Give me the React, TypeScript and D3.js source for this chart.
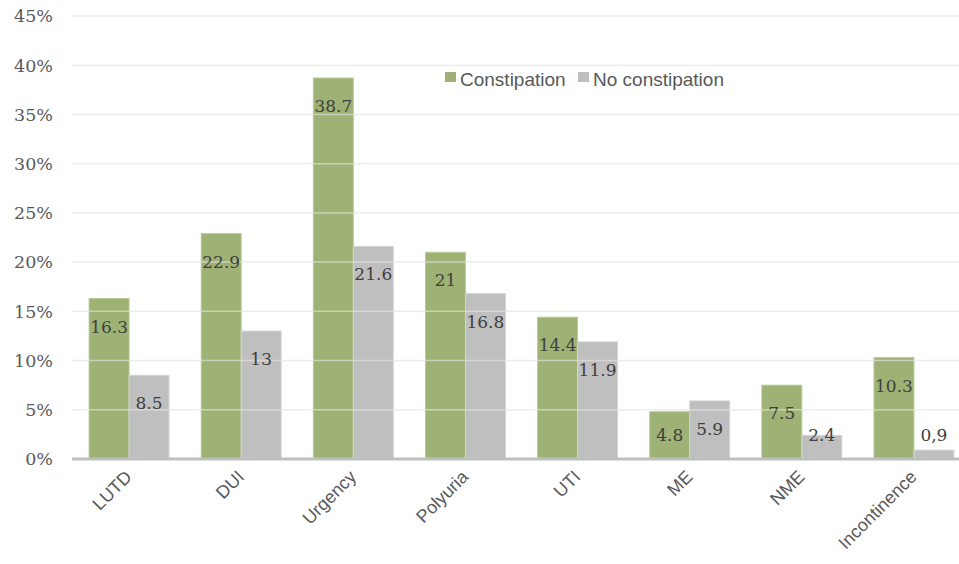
import React, { useEffect, useRef } from "react";
import * as d3 from "d3";

const categories = ["LUTD", "DUI", "Urgency", "Polyuria", "UTI", "ME", "NME", "Incontinence"];
const constipation = [16.3, 22.9, 38.7, 21, 14.4, 4.8, 7.5, 10.3];
const noConstipation = [8.5, 13, 21.6, 16.8, 11.9, 5.9, 2.4, 0.9];
const constipationLabels = ["16.3", "22.9", "38.7", "21", "14.4", "4.8", "7.5", "10.3"];
const noConstipationLabels = ["8.5", "13", "21.6", "16.8", "11.9", "5.9", "2.4", "0,9"];
const yTicks = [0, 5, 10, 15, 20, 25, 30, 35, 40, 45];
const seriesNames = ["Constipation", "No constipation"];

const W = 959;
const H = 564;
const GREEN = "#9db274";
const GREY = "#bfbfbf";

export default function App() {
  const ref = useRef<SVGSVGElement | null>(null);

  useEffect(() => {
    const svg = d3.select(ref.current);
    svg.selectAll("*").remove();

    const plotLeft = 72;
    const baseline = 459;
    const top = 16;

    const y = d3.scaleLinear().domain([0, 45]).range([baseline, top]);
    const x = d3.scaleBand<string>().domain(categories).range([73, 970]).paddingInner(0.287).paddingOuter(0.1435);
    const sub = d3.scaleBand<string>().domain(seriesNames).range([0, x.bandwidth()]);

    const series = [
      { name: seriesNames[0], values: constipation, labels: constipationLabels, color: GREEN, stroke: "#b9cb96" },
      { name: seriesNames[1], values: noConstipation, labels: noConstipationLabels, color: GREY, stroke: "#d4d4d4" },
    ];

    series.forEach((s) => {
      const g = svg.append("g");
      g.selectAll("rect")
        .data(categories)
        .join("rect")
        .attr("x", (c) => (x(c) as number) + (sub(s.name) as number))
        .attr("y", (_c, i) => y(s.values[i]))
        .attr("width", sub.bandwidth())
        .attr("height", (_c, i) => baseline - y(s.values[i]))
        .attr("fill", s.color)
        .attr("stroke", s.stroke)
        .attr("stroke-width", 1);
    });

    // gridlines (drawn over bars, semi-transparent)
    svg.append("g")
      .selectAll("line")
      .data(yTicks.filter((t) => t > 0))
      .join("line")
      .attr("x1", plotLeft)
      .attr("x2", W)
      .attr("y1", (d) => y(d))
      .attr("y2", (d) => y(d))
      .attr("stroke", "#e2e2e2")
      .attr("stroke-opacity", 0.65)
      .attr("stroke-width", 1.5);

    // y tick labels
    svg.append("g")
      .selectAll("text")
      .data(yTicks)
      .join("text")
      .attr("x", 53)
      .attr("y", (d) => y(d))
      .attr("dy", "0.36em")
      .attr("text-anchor", "end")
      .attr("font-family", "DejaVu Serif")
      .attr("font-size", 17.5)
      .attr("fill", "#595959")
      .text((d) => `${d}%`);

    // baseline
    svg.append("line")
      .attr("x1", plotLeft)
      .attr("x2", W)
      .attr("y1", baseline)
      .attr("y2", baseline)
      .attr("stroke", "#bfbfbf")
      .attr("stroke-width", 3);

    // data labels
    series.forEach((s) => {
      svg.append("g")
        .selectAll("text")
        .data(categories)
        .join("text")
        .attr("x", (c) => (x(c) as number) + (sub(s.name) as number) + sub.bandwidth() / 2)
        .attr("y", (_c, i) => Math.min(y(s.values[i]) + 28, baseline - 24))
        .attr("dy", "0.36em")
        .attr("text-anchor", "middle")
        .attr("font-family", "DejaVu Serif")
        .attr("font-size", 17)
        .attr("fill", "#404040")
        .text((_c, i) => s.labels[i]);
    });

    // x labels
    svg.append("g")
      .selectAll("text")
      .data(categories)
      .join("text")
      .attr("transform", (c) => `translate(${(x(c) as number) + x.bandwidth() / 2 + 4},${478}) rotate(-45)`)
      .attr("text-anchor", "end")
      .attr("font-family", "Liberation Sans, Arial, sans-serif")
      .attr("font-size", 18)
      .attr("fill", "#595959")
      .text((c) => c);

    // legend
    const legend = svg.append("g");
    const items = [
      { name: seriesNames[0], color: GREEN, x: 445 },
      { name: seriesNames[1], color: GREY, x: 578 },
    ];
    items.forEach((it) => {
      legend.append("rect").attr("x", it.x).attr("y", 72).attr("width", 11).attr("height", 10).attr("fill", it.color);
      legend.append("text")
        .attr("x", it.x + 15)
        .attr("y", 79)
        .attr("dy", "0.36em")
        .attr("font-family", "Liberation Sans, Arial, sans-serif")
        .attr("font-size", 19)
        .attr("fill", "#595959")
        .text(it.name);
    });
  }, []);

  return (
    <svg
      ref={ref}
      width={W}
      height={H}
      style={{ position: "absolute", left: 0, top: 0, background: "#fff" }}
    />
  );
}
